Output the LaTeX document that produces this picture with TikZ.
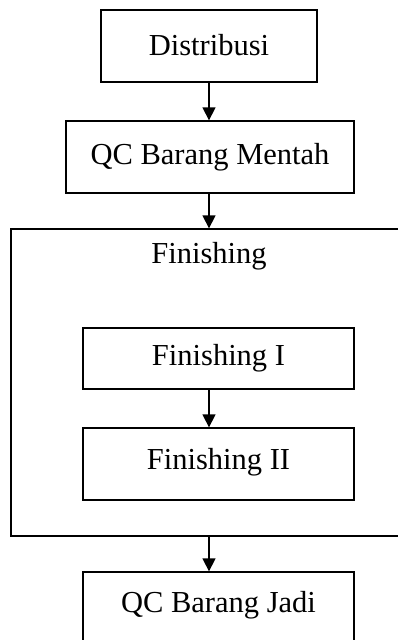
\documentclass[tikz,border=0pt]{standalone}
\usepackage{fontspec}
\setmainfont{Liberation Serif}
\usepackage{tikz}
\usetikzlibrary{shapes,arrows,arrows.meta,positioning}

\begin{document}
\begin{tikzpicture}[
	x = 1pt, y = -1pt,
	font = \fontsize{30.5}{36}\selectfont,
	procnode/.style={rectangle, draw, line width=1.3pt, minimum height=72pt, inner sep=0pt},
	groupnode/.style={rectangle, draw, line width=1.3pt, inner sep=0pt},
	flow/.style={-{Triangle[width=13pt, length=13pt]}, line width=1.3pt},
	]
	\clip (0,0) rectangle (398,640);
	%Nodes
	\node[procnode, minimum width=216pt]                      (distribusi) at (209,46)    {\raisebox{3pt}{Distribusi}};
	\node[procnode, minimum width=288pt]                      (qcmentah)   at (210,157)   {QC Barang Mentah};
	\node[groupnode, minimum width=420pt, minimum height=307pt] (finishing) at (221,382.5) {};
	\node                                                     (finlabel)   at (209,256)   {Finishing};
	\node[procnode, minimum width=271pt, minimum height=61pt] (fin1)       at (218.5,358.5) {Finishing I};
	\node[procnode, minimum width=271pt, yshift=-3pt]         (fin2)       at (218.5,461) {\raisebox{10pt}{Finishing II}};
	\node[procnode, minimum width=271pt]                      (qcjadi)     at (218.5,608) {\raisebox{12pt}{QC Barang Jadi}};

	%Lines
	\draw[flow] (distribusi) -- (qcmentah.north -| distribusi);
	\draw[flow] (qcmentah.south -| distribusi) -- (finishing.north -| distribusi);
	\draw[flow] (fin1.south -| distribusi) -- (fin2.north -| distribusi);
	\draw[flow] (finishing.south -| distribusi) -- (qcjadi.north -| distribusi);
\end{tikzpicture}
\end{document}
